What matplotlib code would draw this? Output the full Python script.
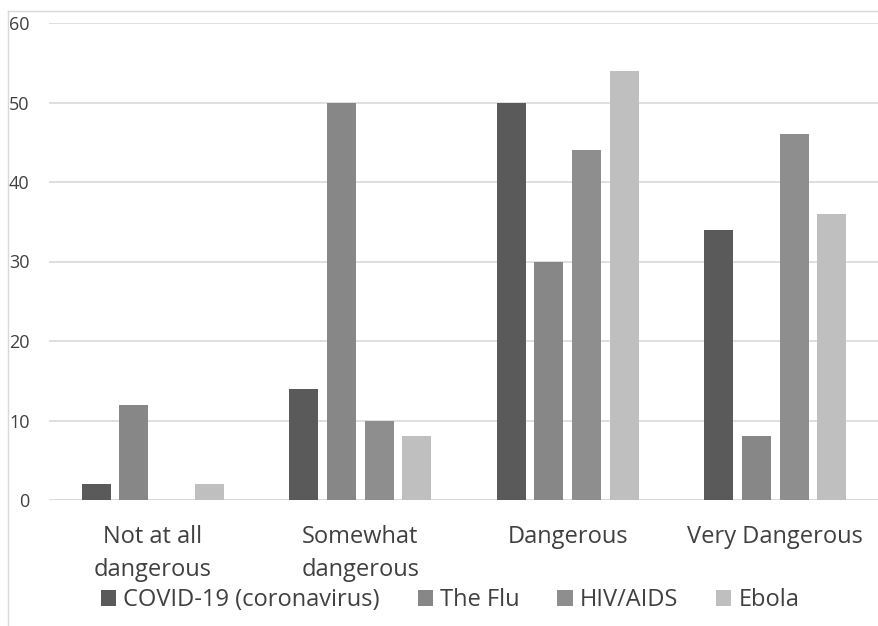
import numpy as np
import matplotlib.pyplot as plt
from matplotlib.lines import Line2D

categories = ['Not at all\ndangerous', 'Somewhat\ndangerous', 'Dangerous', 'Very Dangerous']
series = ['COVID-19 (coronavirus)', 'The Flu', 'HIV/AIDS', 'Ebola']
covid = [2, 14, 50, 34]
flu = [12, 50, 30, 8]
hiv = [0, 10, 44, 46]
ebola = [2, 8, 54, 36]
colors = ['#5a5a5a', '#878787', '#8e8e8e', '#bfbfbf']

plt.rcParams['font.family'] = ['Open Sans', 'DejaVu Sans']

fig = plt.figure(figsize=(8.79, 6.26), dpi=100)
ax = fig.add_axes([49 / 879, 1 - 500 / 626, 1 - 49 / 879, (500 - 23) / 626])

x = np.arange(len(categories))
width = 0.14
step = 0.181
for i, (name, vals) in enumerate(zip(series, [covid, flu, hiv, ebola])):
    ax.bar(x + (i - 1.5) * step, vals, width, color=colors[i], label=name, zorder=3)

ax.set_xlim(-0.5, len(categories) - 0.5)
ax.set_ylim(0, 60)
ax.set_yticks(range(0, 61, 10))
ax.yaxis.grid(True, color='#d9d9d9', lw=1.2, zorder=0)
for s in ax.spines.values():
    s.set_visible(False)
ax.axhline(0, color='#d9d9d9', lw=1.2, zorder=2)
ax.set_xticks(x)
ax.set_xticklabels(categories, fontsize=17, color='#404040', linespacing=1.5)
ax.tick_params(axis='x', length=0, pad=18)
ax.tick_params(axis='y', length=0, labelsize=13, labelcolor='#404040', pad=14)

fig.legend(loc='center', bbox_to_anchor=(0.512, 1 - 600 / 626), ncol=4, frameon=False,
           fontsize=17, labelcolor='#404040', handlelength=0.65, handleheight=0.65,
           handletextpad=0.3, columnspacing=1.6)

# chart area border (partly cropped in the original)
fig.add_artist(Line2D([8 / 879, 8 / 879], [0, 1 - 11 / 626], transform=fig.transFigure,
                      color='#d9d9d9', lw=1))
fig.add_artist(Line2D([8 / 879, 1], [1 - 11 / 626, 1 - 11 / 626], transform=fig.transFigure,
                      color='#d9d9d9', lw=1))

fig.savefig('out.png', dpi=100)
